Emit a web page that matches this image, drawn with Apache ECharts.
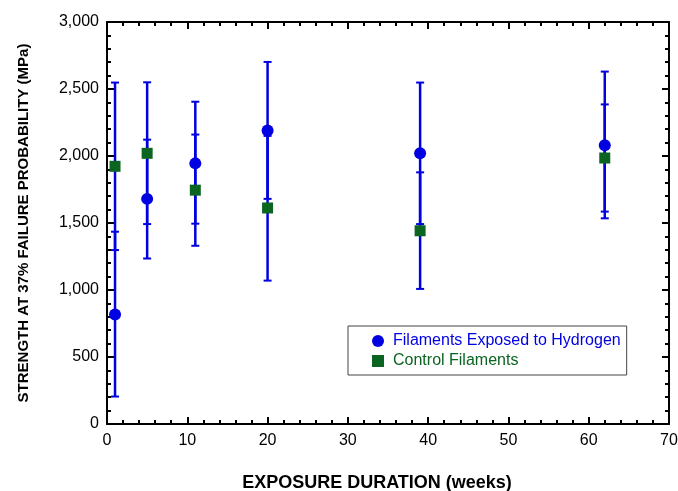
<!DOCTYPE html>
<html>
<head>
<meta charset="utf-8">
<script src="https://cdn.jsdelivr.net/npm/echarts@6/dist/echarts.min.js"></script>
<style>
  html, body { margin: 0; padding: 0; background: #fff; }
  #chart { width: 678px; height: 491px; }
</style>
</head>
<body>
<div id="chart"></div>
<script>
// exposure weeks
var weeks = [1, 5, 11, 20, 39, 62];

// filaments exposed to hydrogen: value, low, high (MPa)
var h2Value = [817, 1680, 1945, 2190, 2020, 2080];
var h2Low   = [205, 1235, 1495, 1680, 1492, 1535];
var h2High  = [1435, 2122, 2405, 2702, 2548, 2630];

// control filaments
var ctlValue = [1923, 2020, 1745, 1612, 1442, 1985];
var ctlLow   = [1298, 1492, 1330, 1070, 1008, 1585];
var ctlHigh  = [2548, 2550, 2160, 2150, 1878, 2385];

var BLUE = '#0000e0';
var GREEN = '#0b6420';
var FONT = 'Liberation Sans';

var chart = echarts.init(document.getElementById('chart'));

function pts(vals) {
  return weeks.map(function (w, i) { return [w, vals[i]]; });
}
function bars(lo, hi) {
  return weeks.map(function (w, i) { return [w, lo[i], hi[i]]; });
}

// error bar: vertical line plus two caps
function renderBar(params, api) {
  var x = api.value(0);
  var lo = api.coord([x, api.value(1)]);
  var hi = api.coord([x, api.value(2)]);
  var cw = 4;
  var st = { stroke: BLUE, lineWidth: 2 };
  return {
    type: 'group',
    children: [
      { type: 'line', shape: { x1: lo[0], y1: lo[1], x2: hi[0], y2: hi[1] }, style: { stroke: BLUE, lineWidth: 2.5 } },
      { type: 'line', shape: { x1: lo[0] - cw, y1: lo[1], x2: lo[0] + cw, y2: lo[1] }, style: st },
      { type: 'line', shape: { x1: hi[0] - cw, y1: hi[1], x2: hi[0] + cw, y2: hi[1] }, style: st }
    ]
  };
}

var tickStyle = { color: '#000', width: 2 };
var lineStyle = { onZero: false, lineStyle: { color: '#000', width: 2 } };

var option = {
  animation: false,
  grid: { left: 107, top: 22, right: 9, bottom: 67, outerBoundsMode: 'none' },
  legend: {
    orient: 'vertical',
    left: 348, top: 326,
    backgroundColor: '#fff',
    borderColor: '#444', borderWidth: 1,
    padding: [7, 6, 6, 24],
    itemWidth: 12, itemHeight: 12, itemGap: 4,
    data: [
      { name: 'Filaments Exposed to Hydrogen', icon: 'circle', textStyle: { color: BLUE } },
      { name: 'Control Filaments', icon: 'rect', textStyle: { color: GREEN } }
    ],
    textStyle: { fontFamily: FONT, fontSize: 16, padding: [0, 0, 0, 4] }
  },
  xAxis: [{
    type: 'value', min: 0, max: 70, interval: 10,
    name: 'EXPOSURE DURATION (weeks)', nameLocation: 'middle', nameGap: 50,
    nameTextStyle: { fontFamily: FONT, fontSize: 18, fontWeight: 'bold', color: '#000', padding: [0, 22, 0, 0] },
    axisLine: lineStyle,
    axisTick: { inside: true, length: 7, lineStyle: tickStyle },
    minorTick: { show: true, splitNumber: 5, length: 4, lineStyle: tickStyle },
    splitLine: { show: false },
    axisLabel: { fontFamily: FONT, fontSize: 16, color: '#000', margin: 9 }
  }, {
    type: 'value', position: 'top', min: 0, max: 70, interval: 10,
    axisLine: lineStyle,
    axisTick: { inside: true, length: 7, lineStyle: tickStyle },
    minorTick: { show: true, splitNumber: 5, length: 4, lineStyle: tickStyle },
    splitLine: { show: false },
    axisLabel: { show: false }
  }],
  yAxis: [{
    type: 'value', min: 0, max: 3000, interval: 500,
    name: 'STRENGTH AT 37% FAILURE PROBABILITY (MPa)', nameLocation: 'middle', nameGap: 76,
    nameTextStyle: { fontFamily: FONT, fontSize: 15, fontWeight: 'bold', color: '#000' },
    axisLine: lineStyle,
    axisTick: { inside: true, length: 7, lineStyle: tickStyle },
    minorTick: { show: true, splitNumber: 5, length: 4, lineStyle: tickStyle },
    splitLine: { show: false },
    axisLabel: {
      fontFamily: FONT, fontSize: 16, color: '#000', margin: 8,
      formatter: function (v) { return v.toLocaleString('en-US'); }
    }
  }, {
    type: 'value', position: 'right', min: 0, max: 3000, interval: 500,
    axisLine: lineStyle,
    axisTick: { inside: true, length: 7, lineStyle: tickStyle },
    minorTick: { show: true, splitNumber: 5, length: 4, lineStyle: tickStyle },
    splitLine: { show: false },
    axisLabel: { show: false }
  }],
  series: [
    {
      name: 'h2 bars', type: 'custom', renderItem: renderBar,
      data: bars(h2Low, h2High), z: 2, silent: true
    },
    {
      name: 'ctl bars', type: 'custom', renderItem: renderBar,
      data: bars(ctlLow, ctlHigh), z: 2, silent: true
    },
    {
      name: 'Filaments Exposed to Hydrogen', type: 'scatter',
      symbol: 'circle', symbolSize: 12,
      itemStyle: { color: BLUE, opacity: 1 },
      data: pts(h2Value), z: 5
    },
    {
      name: 'Control Filaments', type: 'scatter',
      symbol: 'rect', symbolSize: 11,
      itemStyle: { color: GREEN, opacity: 1 },
      data: pts(ctlValue), z: 5
    }
  ]
};

chart.setOption(option);
</script>
</body>
</html>
